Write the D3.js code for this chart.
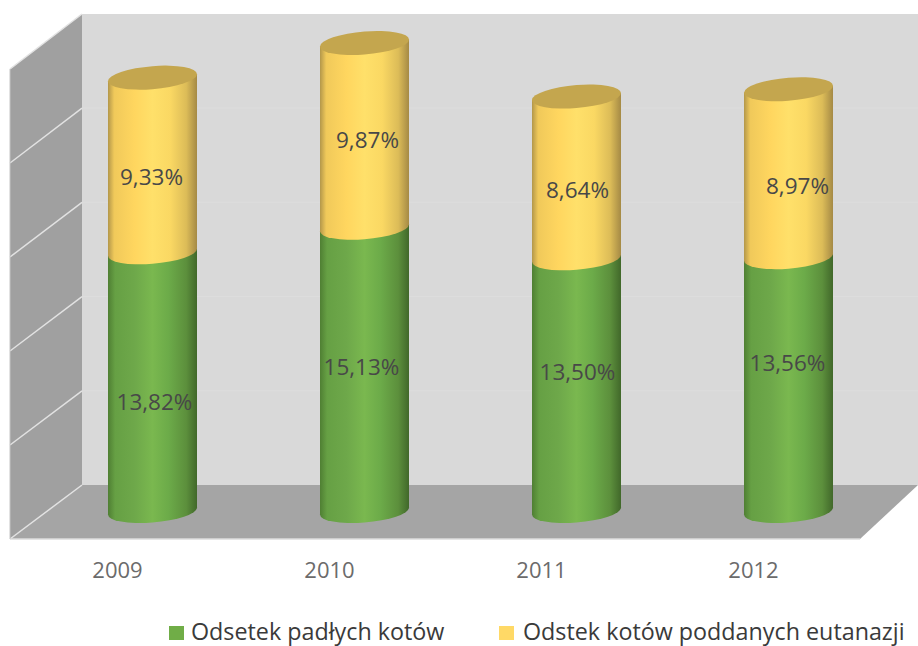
<!DOCTYPE html>
<html><head><meta charset="utf-8">
<script src="https://cdn.jsdelivr.net/npm/d3@7"></script>
<style>html,body{margin:0;padding:0;background:#fff}svg{display:block}text{font-family:"Open Sans",Lato,sans-serif}</style>
</head><body><svg id="c" width="918" height="646"></svg>
<script>
const years = ["2009","2010","2011","2012"];
const padle = [13.82,15.13,13.50,13.56];
const eutanazja = [9.33,9.87,8.64,8.97];
const seriesNames = ["Odsetek padłych kotów","Odstek kotów poddanych eutanazji"];
const gridTicks = [0,5,10,15,20,25];

const svg = d3.select("#c");
const fmt = v => v.toFixed(2).replace(".",",")+"%";
const x = d3.scaleBand().domain(years).range([11.5,859.5]);
const yBack = d3.scaleLinear().domain([0,25]).range([485,14]);
const yFront = d3.scaleLinear().domain([0,25]).range([539,69]);
const yBar = d3.scaleLinear().domain([0,25]).range([511,43]);
const wallL=10, wallR=82, depthX=35, rx=44.5, ry=11.5, skew=-4.5;

const defs = svg.append("defs");
function grad(id,stops){
  const g=defs.append("linearGradient").attr("id",id).attr("x1",0).attr("x2",1).attr("y1",0).attr("y2",0);
  stops.forEach(s=>g.append("stop").attr("offset",s[0]).attr("stop-color",s[1]));
}
grad("gG",[[0,"#4f7f33"],[.08,"#66a044"],[.3,"#6ea84a"],[.5,"#7ab84f"],[.68,"#6cab49"],[.88,"#5c8f3c"],[1,"#41682a"]]);
grad("gY",[[0,"#b3974a"],[.07,"#f0c95a"],[.3,"#ffd65f"],[.5,"#ffe06a"],[.7,"#fad863"],[.88,"#dcbc58"],[1,"#a58a45"]]);

// walls
svg.append("rect").attr("x",wallR).attr("y",yBack(25)).attr("width",918-wallR).attr("height",yBack(0)-yBack(25)).attr("fill","#d9d9d9");
svg.append("path").attr("fill","#a0a0a0")
  .attr("d",d3.line()([[wallL,yFront(25)],[wallR,yBack(25)],[wallR,yBack(0)],[wallL,yFront(0)]]));
svg.append("path").attr("fill","#a5a5a5")
  .attr("d",d3.line()([[wallR,yBack(0)],[918,yBack(0)],[860,yFront(0)],[wallL,yFront(0)]]));

// gridlines
svg.selectAll("line.back").data(gridTicks.filter(t=>t>0&&t<25)).join("line").attr("class","back")
  .attr("x1",wallR).attr("x2",918).attr("y1",yBack).attr("y2",yBack).attr("stroke","#dddddd");
svg.selectAll("line.side").data(gridTicks).join("line").attr("class","side")
  .attr("x1",wallL).attr("x2",wallR).attr("y1",yFront).attr("y2",yBack)
  .attr("stroke","#e2e2e2").attr("stroke-width",1.5);
svg.append("line").attr("x1",wallL).attr("x2",860).attr("y1",yFront(0)).attr("y2",yFront(0)).attr("stroke","#dcdcdc").attr("stroke-width",1.5);
svg.append("line").attr("x1",wallL).attr("x2",wallL).attr("y1",yFront(0)).attr("y2",yFront(25)).attr("stroke","#c4c4c4");

// cylinders
years.forEach((yr,i)=>{
  const cx=x(yr)+x.bandwidth()/2+depthX;
  const g=svg.append("g").attr("transform",`translate(${cx},0) skewY(${skew})`);
  const seg=(lo,hi,fill)=>{
    g.append("ellipse").attr("cx",0).attr("cy",yBar(lo)).attr("rx",rx).attr("ry",ry).attr("fill",fill);
    g.append("rect").attr("x",-rx).attr("width",2*rx).attr("y",yBar(hi)).attr("height",yBar(lo)-yBar(hi)).attr("fill",fill);
  };
  seg(0,padle[i],"url(#gG)");
  seg(padle[i],padle[i]+eutanazja[i],"url(#gY)");
  g.append("ellipse").attr("cx",0).attr("cy",yBar(padle[i]+eutanazja[i])).attr("rx",rx).attr("ry",ry).attr("fill","#c4a64e");
});

// data labels (manually placed in the original, nudged from segment centres)
const nudgeG=[[2,20],[-3,-2],[1,-13],[-1,-21]];
const nudgeY=[[-1,12],[3,5],[1,13],[9,13]];
const lbl=(cx,cy,t)=>svg.append("text").attr("x",cx).attr("y",cy).attr("text-anchor","middle").attr("dy","0.35em")
  .attr("font-size",22.5).attr("fill","#484848").text(t);
years.forEach((yr,i)=>{
  const cx=x(yr)+x.bandwidth()/2+depthX;
  lbl(cx+nudgeG[i][0],yBar(padle[i]/2)+nudgeG[i][1],fmt(padle[i]));
  lbl(cx+nudgeY[i][0],yBar(padle[i]+eutanazja[i]/2)+nudgeY[i][1],fmt(eutanazja[i]));
});

// x axis
const ax=svg.append("g").attr("transform","translate(0,562)").call(d3.axisBottom(x).tickSize(0).tickPadding(0));
ax.select(".domain").remove();
ax.selectAll("text").attr("font-size",22).attr("fill","#6b6b6b").attr("font-family",'"Open Sans",Lato,sans-serif').attr("dy","0.71em");

// legend
const legendX=[169,499], legendTx=[191,523], legendCol=["#70ad47","#ffd966"];
seriesNames.forEach((n,i)=>{
  svg.append("rect").attr("x",legendX[i]).attr("y",626).attr("width",15).attr("height",14).attr("fill",legendCol[i]);
  svg.append("text").attr("x",legendTx[i]).attr("y",640).attr("font-size",23.3).attr("fill","#3a3a3a").text(n);
});
</script></body></html>
